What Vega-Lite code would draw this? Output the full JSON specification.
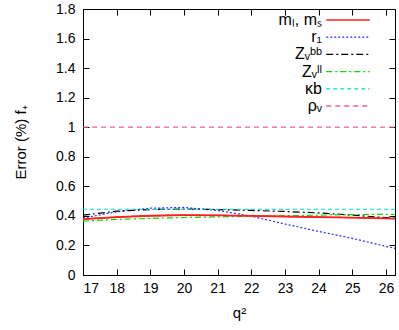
{
  "$schema": "https://vega.github.io/schema/vega-lite/v6.json",
  "autosize": {"type": "none"},
  "padding": {"left": 83, "top": 9, "right": 4, "bottom": 55},
  "width": 312,
  "height": 266,
  "config": {
    "font": "Liberation Sans",
    "view": {"stroke": "black", "strokeWidth": 1},
    "axis": {"grid": false, "domain": false, "tickColor": "black", "labelColor": "black", "titleColor": "black", "labelFontSize": 14, "titleFontSize": 15, "titleFontWeight": "normal", "tickSize": -6, "labelFont": "Liberation Sans", "titleFont": "Liberation Sans"},
    "legend": {"title": null, "orient": "none", "legendX": 257, "legendY": 3, "symbolType": "M-4.35,0H4.35", "symbolSize": 100, "symbolStrokeWidth": 1.3, "labelAlign": "right", "labelOffset": -34, "labelFontSize": 16, "labelColor": "black", "rowPadding": 1.2, "labelLimit": 200, "padding": 0}
  },
  "data": {"values": [
    {"s": "m", "q2": 17, "v": 0.378}, {"s": "m", "q2": 18, "v": 0.392}, {"s": "m", "q2": 19, "v": 0.401}, {"s": "m", "q2": 20, "v": 0.405}, {"s": "m", "q2": 21, "v": 0.404}, {"s": "m", "q2": 22, "v": 0.400}, {"s": "m", "q2": 23, "v": 0.396}, {"s": "m", "q2": 24, "v": 0.392}, {"s": "m", "q2": 25, "v": 0.388}, {"s": "m", "q2": 26.27, "v": 0.382},
    {"s": "r1", "q2": 17, "v": 0.385}, {"s": "r1", "q2": 18, "v": 0.428}, {"s": "r1", "q2": 19, "v": 0.452}, {"s": "r1", "q2": 20, "v": 0.457}, {"s": "r1", "q2": 21, "v": 0.437}, {"s": "r1", "q2": 22, "v": 0.398}, {"s": "r1", "q2": 23, "v": 0.345}, {"s": "r1", "q2": 24, "v": 0.295}, {"s": "r1", "q2": 25, "v": 0.248}, {"s": "r1", "q2": 26.27, "v": 0.18},
    {"s": "zbb", "q2": 17, "v": 0.405}, {"s": "zbb", "q2": 18, "v": 0.432}, {"s": "zbb", "q2": 19, "v": 0.443}, {"s": "zbb", "q2": 20, "v": 0.446}, {"s": "zbb", "q2": 21, "v": 0.443}, {"s": "zbb", "q2": 22, "v": 0.437}, {"s": "zbb", "q2": 23, "v": 0.430}, {"s": "zbb", "q2": 24, "v": 0.420}, {"s": "zbb", "q2": 25, "v": 0.405}, {"s": "zbb", "q2": 26.27, "v": 0.384},
    {"s": "zll", "q2": 17, "v": 0.365}, {"s": "zll", "q2": 18, "v": 0.376}, {"s": "zll", "q2": 19, "v": 0.383}, {"s": "zll", "q2": 20, "v": 0.389}, {"s": "zll", "q2": 21, "v": 0.393}, {"s": "zll", "q2": 22, "v": 0.397}, {"s": "zll", "q2": 23, "v": 0.401}, {"s": "zll", "q2": 24, "v": 0.405}, {"s": "zll", "q2": 25, "v": 0.409}, {"s": "zll", "q2": 26.27, "v": 0.411},
    {"s": "kb", "q2": 17, "v": 0.445}, {"s": "kb", "q2": 26.27, "v": 0.445},
    {"s": "rho", "q2": 17, "v": 1.0}, {"s": "rho", "q2": 26.27, "v": 1.0}
  ]},
  "layer": [
    {
      "mark": {"type": "line", "strokeWidth": 1.2, "clip": true},
      "encoding": {
        "x": {"field": "q2", "type": "quantitative", "scale": {"domain": [17, 26.27], "nice": false, "zero": false},
              "axis": {"values": [17,18,19,20,21,22,23,24,25,26], "title": "q²", "titlePadding": 10, "labelPadding": 12, "orient": "bottom"}},
        "y": {"field": "v", "type": "quantitative", "scale": {"domain": [0, 1.8], "nice": false},
              "axis": {"values": [0,0.2,0.4,0.6,0.8,1,1.2,1.4,1.6,1.8], "format": "~g", "title": "Error (%) f₊", "titlePadding": 27, "labelPadding": 14, "orient": "left"}},
        "color": {"field": "s", "type": "nominal", "sort": ["m","r1","zbb","zll","kb","rho"],
                  "scale": {"domain": ["m","r1","zbb","zll","kb","rho"], "range": ["#ff2020","#2a2aff","#000000","#00e000","#00d8d8","#e8609a"]},
                  "legend": {"labelExpr": "{'m':'mₗ, mₛ','r1':'r₁','zbb':'Zᵥᵇᵇ','zll':'Zᵥˡˡ','kb':'κb','rho':'ρᵥ'}[datum.value]"}},
        "strokeDash": {"field": "s", "type": "nominal", "sort": ["m","r1","zbb","zll","kb","rho"],
                  "scale": {"domain": ["m","r1","zbb","zll","kb","rho"], "range": [[1,0],[2,2],[7,3,2,3],[6,3,2,3],[4,3],[5,4]]},
                  "legend": {"labelExpr": "{'m':'mₗ, mₛ','r1':'r₁','zbb':'Zᵥᵇᵇ','zll':'Zᵥˡˡ','kb':'κb','rho':'ρᵥ'}[datum.value]"}}
      }
    },
    {
      "transform": [{"filter": "datum.s == 'm'"}],
      "mark": {"type": "line", "strokeWidth": 1.8, "clip": true, "color": "#ff2020"},
      "encoding": {
        "x": {"field": "q2", "type": "quantitative", "axis": null},
        "y": {"field": "v", "type": "quantitative", "axis": null}
      }
    },
    {
      "mark": {"type": "point", "opacity": 0},
      "encoding": {
        "x": {"field": "q2", "type": "quantitative", "axis": {"orient": "top", "values": [17,18,19,20,21,22,23,24,25,26], "labels": false, "title": null}},
        "y": {"field": "v", "type": "quantitative", "axis": {"orient": "right", "values": [0,0.2,0.4,0.6,0.8,1,1.2,1.4,1.6,1.8], "labels": false, "title": null}}
      }
    }
  ],
  "resolve": {"axis": {"x": "independent", "y": "independent"}}
}
